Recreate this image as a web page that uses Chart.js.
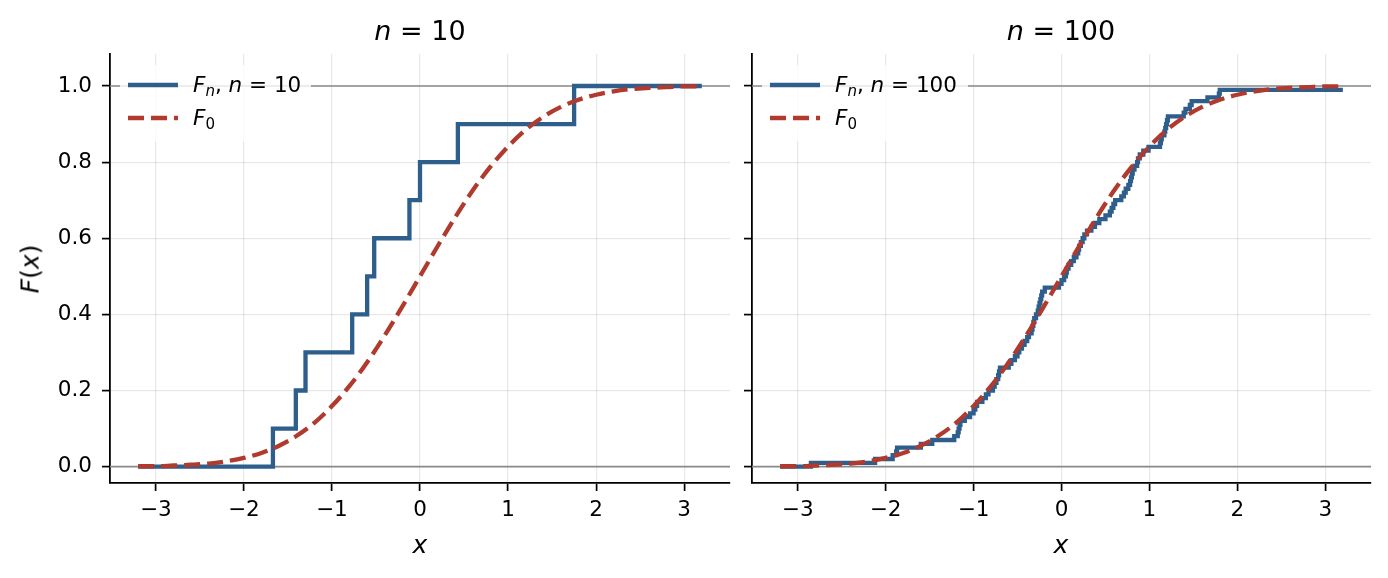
<!DOCTYPE html>
<html>
<head>
<meta charset="utf-8">
<script src="https://cdn.jsdelivr.net/npm/chart.js"></script>
<style>
  body { margin: 0; width: 1388px; height: 578px; background: #fff; position: relative; overflow: hidden;
         font-family: 'DejaVu Sans', sans-serif; color: #000; }
  .panel { position: absolute; top: 0; height: 578px; }
  .lbl { position: absolute; transform: translate(-50%, -50%); white-space: nowrap; line-height: 1; }
  .title { font-size: 27px; }
  .axlabel { font-size: 25px; }
  .legend { position: absolute; background: rgba(255,255,255,0.8); border-radius: 4px; }
  .row { position: absolute; left: 0; height: 22px; font-size: 21.5px; line-height: 22px; white-space: nowrap; }
  .row svg { position: absolute; left: 8px; top: 0; }
  .row span.txt { position: absolute; left: 73px; top: 0; }
  i { font-style: italic; }
  .sub { font-size: 0.7em; position: relative; top: 0.25em; }
</style>
</head>
<body>

<div class="panel" style="left:0; width:740px;"><canvas id="chartN10"></canvas></div>
<div class="panel" style="left:740px; width:648px;"><canvas id="chartN100"></canvas></div>

<div class="lbl title" style="left:420px; top:30px;"><i>n</i> = 10</div>
<div class="lbl title" style="left:1061px; top:30px;"><i>n</i> = 100</div>
<div class="lbl axlabel" style="left:420px; top:544px;"><i>x</i></div>
<div class="lbl axlabel" style="left:1061px; top:544px;"><i>x</i></div>
<div class="lbl axlabel" style="left:30px; top:269px; transform: translate(-50%, -50%) rotate(-90deg);"><i>F</i>(<i>x</i>)</div>

<div class="legend" style="left:120px; top:65px; width:191px; height:76px;">
  <div class="row" style="top:9px;">
    <svg width="50" height="22"><line x1="0" y1="11" x2="50" y2="11" stroke="#2E5E8C" stroke-width="4.3"/></svg>
    <span class="txt"><i>F</i><span class="sub"><i>n</i></span>, <i>n</i> = 10</span>
  </div>
  <div class="row" style="top:42px;">
    <svg width="50" height="22"><line x1="0" y1="11" x2="50" y2="11" stroke="#B03A2E" stroke-width="4.3" stroke-dasharray="16 7"/></svg>
    <span class="txt"><i>F</i><span class="sub">0</span></span>
  </div>
</div>

<div class="legend" style="left:762px; top:65px; width:206px; height:76px;">
  <div class="row" style="top:9px;">
    <svg width="50" height="22"><line x1="0" y1="11" x2="50" y2="11" stroke="#2E5E8C" stroke-width="4.3"/></svg>
    <span class="txt"><i>F</i><span class="sub"><i>n</i></span>, <i>n</i> = 100</span>
  </div>
  <div class="row" style="top:42px;">
    <svg width="50" height="22"><line x1="0" y1="11" x2="50" y2="11" stroke="#B03A2E" stroke-width="4.3" stroke-dasharray="16 7"/></svg>
    <span class="txt"><i>F</i><span class="sub">0</span></span>
  </div>
</div>

<script>
// tick values
const xTicks = [-3, -2, -1, 0, 1, 2, 3];
const yTicks = [0.0, 0.2, 0.4, 0.6, 0.8, 1.0];
const refLevels = [0, 1];

// theoretical cdf F0
const f0X = [-3.2, -3.0, -2.8, -2.6, -2.4, -2.2, -2.0, -1.8, -1.6, -1.4, -1.2, -1.0, -0.8, -0.6, -0.4, -0.2,
             0.0, 0.2, 0.4, 0.6, 0.8, 1.0, 1.2, 1.4, 1.6, 1.8, 2.0, 2.2, 2.4, 2.6, 2.8, 3.0, 3.2];
const f0Y = [0.001, 0.001, 0.003, 0.005, 0.008, 0.014, 0.023, 0.036, 0.055, 0.081, 0.115, 0.159, 0.212, 0.274, 0.345, 0.421,
             0.500, 0.579, 0.655, 0.726, 0.788, 0.841, 0.885, 0.919, 0.945, 0.964, 0.977, 0.986, 0.992, 0.995, 0.997, 0.999, 0.999];

// empirical cdf, n = 10
const ecdf10X = [-3.2, -1.67, -1.41, -1.30, -0.77, -0.60, -0.52, -0.12, 0.00, 0.43, 1.75, 3.2];
const ecdf10Y = [0.0, 0.1, 0.2, 0.3, 0.4, 0.5, 0.6, 0.7, 0.8, 0.9, 1.0, 1.0];

// empirical cdf, n = 100
const ecdf100X = [-3.2,
  -2.85, -2.12, -1.92, -1.88, -1.87, -1.60, -1.47, -1.22, -1.18, -1.17,
  -1.16, -1.15, -1.10, -1.04, -1.00, -0.98, -0.96, -0.90, -0.86, -0.83,
  -0.78, -0.76, -0.74, -0.72, -0.71, -0.70, -0.60, -0.57, -0.53, -0.50,
  -0.48, -0.45, -0.42, -0.39, -0.37, -0.34, -0.33, -0.32, -0.31, -0.29,
  -0.27, -0.26, -0.25, -0.24, -0.23, -0.22, -0.19, -0.03, 0.00, 0.03,
  0.05, 0.06, 0.08, 0.11, 0.14, 0.17, 0.19, 0.20, 0.22, 0.24,
  0.26, 0.29, 0.34, 0.38, 0.43, 0.50, 0.55, 0.57, 0.59, 0.61,
  0.68, 0.71, 0.73, 0.76, 0.78, 0.79, 0.80, 0.81, 0.83, 0.86,
  0.87, 0.89, 0.93, 0.99, 1.12, 1.13, 1.14, 1.17, 1.18, 1.19,
  1.20, 1.21, 1.39, 1.41, 1.46, 1.48, 1.66, 1.79, 1.80,
  3.2];
const ecdf100Y = [0.00,
  0.01, 0.02, 0.03, 0.04, 0.05, 0.06, 0.07, 0.08, 0.09, 0.10,
  0.11, 0.12, 0.13, 0.14, 0.15, 0.16, 0.17, 0.18, 0.19, 0.20,
  0.21, 0.22, 0.23, 0.24, 0.25, 0.26, 0.27, 0.28, 0.29, 0.30,
  0.31, 0.32, 0.33, 0.34, 0.35, 0.36, 0.37, 0.38, 0.39, 0.40,
  0.41, 0.42, 0.43, 0.44, 0.45, 0.46, 0.47, 0.48, 0.49, 0.50,
  0.51, 0.52, 0.53, 0.54, 0.55, 0.56, 0.57, 0.58, 0.59, 0.60,
  0.61, 0.62, 0.63, 0.64, 0.65, 0.66, 0.67, 0.68, 0.69, 0.70,
  0.71, 0.72, 0.73, 0.74, 0.75, 0.76, 0.77, 0.78, 0.79, 0.80,
  0.81, 0.82, 0.83, 0.84, 0.85, 0.86, 0.87, 0.88, 0.89, 0.90,
  0.91, 0.92, 0.93, 0.94, 0.95, 0.96, 0.97, 0.98, 0.99,
  0.99];

const BLUE = '#2E5E8C';
const RED = '#B03A2E';

Chart.defaults.font.family = "'DejaVu Sans', sans-serif";
Chart.defaults.color = '#000';

function toPoints(xs, ys) {
  return xs.map((x, i) => ({ x: x, y: ys[i] }));
}

function fmtX(v) {
  return v < 0 ? '\u2212' + Math.abs(v) : String(v);
}

// grey horizontal lines at F = 0 and F = 1, under the data
const refLinePlugin = {
  id: 'refLines',
  beforeDatasetsDraw(chart) {
    const { ctx, chartArea, scales } = chart;
    ctx.save();
    ctx.strokeStyle = '#8a8a8a';
    ctx.lineWidth = 1.7;
    refLevels.forEach(v => {
      const y = scales.y.getPixelForValue(v);
      ctx.beginPath();
      ctx.moveTo(chartArea.left, y);
      ctx.lineTo(chartArea.right, y);
      ctx.stroke();
    });
    ctx.restore();
  }
};

function makePanel(id, ecdfX, ecdfY, yWidth, padRight, showYLabels) {
  const ctx = document.getElementById(id);
  return new Chart(ctx.getContext('2d'), {
    type: 'line',
    data: {
      datasets: [
        {
          data: toPoints(ecdfX, ecdfY),
          borderColor: BLUE,
          borderWidth: 4.3,
          stepped: 'before',
          pointRadius: 0,
          fill: false,
          order: 1
        },
        {
          data: toPoints(f0X, f0Y),
          borderColor: RED,
          borderWidth: 4.3,
          borderDash: [16, 7],
          cubicInterpolationMode: 'monotone',
          pointRadius: 0,
          fill: false,
          order: 0
        }
      ]
    },
    options: {
      responsive: true,
      maintainAspectRatio: false,
      animation: false,
      events: [],
      layout: { padding: { left: 0, top: 54, right: padRight, bottom: 0 } },
      plugins: { legend: { display: false }, tooltip: { enabled: false } },
      scales: {
        x: {
          type: 'linear',
          min: -3.52,
          max: 3.52,
          afterBuildTicks: s => { s.ticks = xTicks.map(v => ({ value: v })); },
          afterFit: s => { s.height = 95; },
          grid: { color: 'rgba(0,0,0,0.09)', lineWidth: 1.2, tickLength: 8, tickColor: '#000', tickWidth: 1.7 },
          border: { color: '#000', width: 1.8 },
          ticks: { font: { size: 21.5 }, padding: 7, maxRotation: 0, autoSkip: false, callback: v => fmtX(v) }
        },
        y: {
          type: 'linear',
          min: -0.043,
          max: 1.084,
          afterBuildTicks: s => { s.ticks = yTicks.map(v => ({ value: v })); },
          afterFit: s => { s.width = yWidth; },
          grid: { color: 'rgba(0,0,0,0.09)', lineWidth: 1.2, tickLength: 8, tickColor: '#000', tickWidth: 1.7 },
          border: { color: '#000', width: 1.8 },
          ticks: { font: { size: 21.5 }, padding: 10, autoSkip: false,
                   callback: v => showYLabels ? v.toFixed(1) : '' }
        }
      }
    },
    plugins: [refLinePlugin]
  });
}

makePanel('chartN10', ecdf10X, ecdf10Y, 110, 10, true);
makePanel('chartN100', ecdf100X, ecdf100Y, 12, 17, false);
</script>
</body>
</html>
